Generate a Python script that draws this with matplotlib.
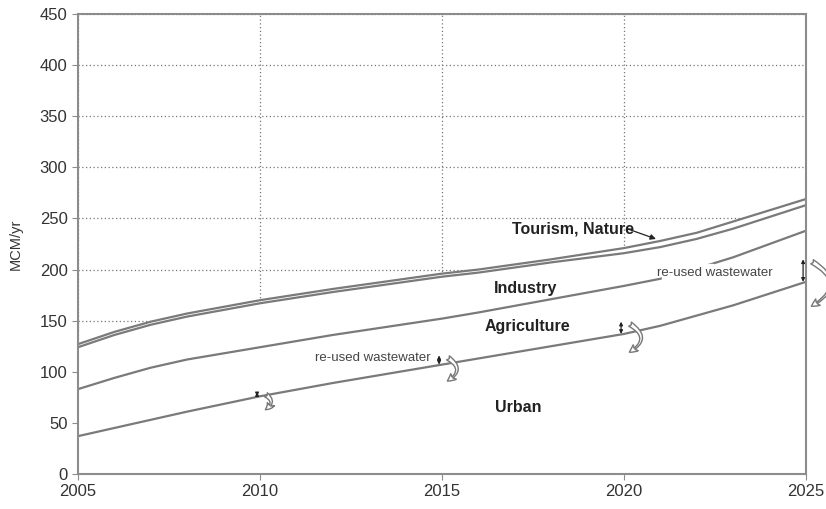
import matplotlib.pyplot as plt
import numpy as np

plt.rcParams['font.family'] = ['Liberation Sans', 'DejaVu Sans']

# water demand (MCM/yr), cumulative boundaries
years = [2005, 2006, 2007, 2008, 2010, 2012, 2015, 2016, 2018, 2020, 2021, 2022, 2023, 2025]
tourism_top = [127, 139, 149, 157, 170, 181, 196, 200, 210, 221, 228, 236, 247, 269]
industry_top = [124, 136, 146, 154, 167, 178, 193, 197, 207, 216, 222, 230, 240, 263]
agric_top = [83, 94, 104, 112, 124, 136, 152, 158, 171, 184, 191, 201, 212, 238]
urban_top = [37, 45, 53, 61, 76, 89, 107, 113, 125, 137, 145, 155, 165, 188]

# re-used wastewater arrows
reuse_years = [2010, 2015, 2020, 2025]
reuse_low = [76, 107, 137, 188]
reuse_high = [80, 116, 149, 210]

gray = '#8c8c8c'

fig = plt.figure(figsize=(8.26, 5.09), dpi=100)
ax = fig.add_axes([0.0944, 0.0688, 0.8814, 0.9037])

ax.set_xlim(2005, 2025)
ax.set_ylim(0, 450)
ax.set_xticks([2005, 2010, 2015, 2020, 2025])
ax.set_yticks(range(0, 451, 50))
ax.grid(True, color='#777777', linestyle=(0, (1, 2)), linewidth=0.9, zorder=0)
ax.set_axisbelow(True)
for s in ax.spines.values():
    s.set_color(gray)
    s.set_linewidth(1.5)
ax.tick_params(colors='#333333', labelsize=12, length=4, color=gray)
ax.set_ylabel('MCM/yr', fontsize=10.5, color='#333333', labelpad=12)

# white area hides the grid under the curves
ax.fill_between(years, 0, tourism_top, color='white', zorder=1)
for ys in [tourism_top, industry_top, agric_top, urban_top]:
    ax.plot(years, ys, color='#7a7a7a', linewidth=1.6, zorder=2)

# gap in the agriculture line for the label
ax.fill_between([2021.05, 2022.45], 186, 205.5, color='white', zorder=2.5)

for x, lo, hi in zip(reuse_years, reuse_low, reuse_high):
    ax.annotate('', xy=(x - 0.08, hi), xytext=(x - 0.08, lo),
                arrowprops=dict(arrowstyle='<|-|>', color='#222222', lw=0.9,
                                mutation_scale=5, shrinkA=0, shrinkB=0),
                zorder=4)
    ax.annotate('', xy=(x + 0.08, lo - 12 - (hi - lo) * 0.6),
                xytext=(x + 0.1, hi - 1),
                arrowprops=dict(arrowstyle='fancy,head_length=0.4,head_width=0.4,tail_width=0.25',
                                connectionstyle='arc3,rad=-0.9', fc='white',
                                ec='#777777', lw=1, mutation_scale=14),
                annotation_clip=False, zorder=4)

ax.text(2018.6, 240, 'Tourism, Nature', fontsize=11.5, fontweight='bold',
        color='#222222', ha='center', va='center', zorder=5)
ax.annotate('', xy=(2020.95, 229), xytext=(2020.0, 241),
            arrowprops=dict(arrowstyle='-|>', color='#222222', lw=0.9,
                            mutation_scale=8), zorder=5)
ax.text(2017.3, 181, 'Industry', fontsize=11.5, fontweight='bold',
        color='#222222', ha='center', va='center', zorder=5)
ax.text(2017.35, 144, 'Agriculture', fontsize=11.5, fontweight='bold',
        color='#222222', ha='center', va='center', zorder=5)
ax.text(2017.1, 65, 'Urban', fontsize=11.5, fontweight='bold',
        color='#222222', ha='center', va='center', zorder=5)
ax.text(2022.5, 197, 're-used wastewater', fontsize=9.5, color='#444444',
        ha='center', va='center', zorder=5)
ax.text(2013.1, 113, 're-used wastewater', fontsize=9.5, color='#444444',
        ha='center', va='center', zorder=5)

fig.savefig('out.png', dpi=100)
